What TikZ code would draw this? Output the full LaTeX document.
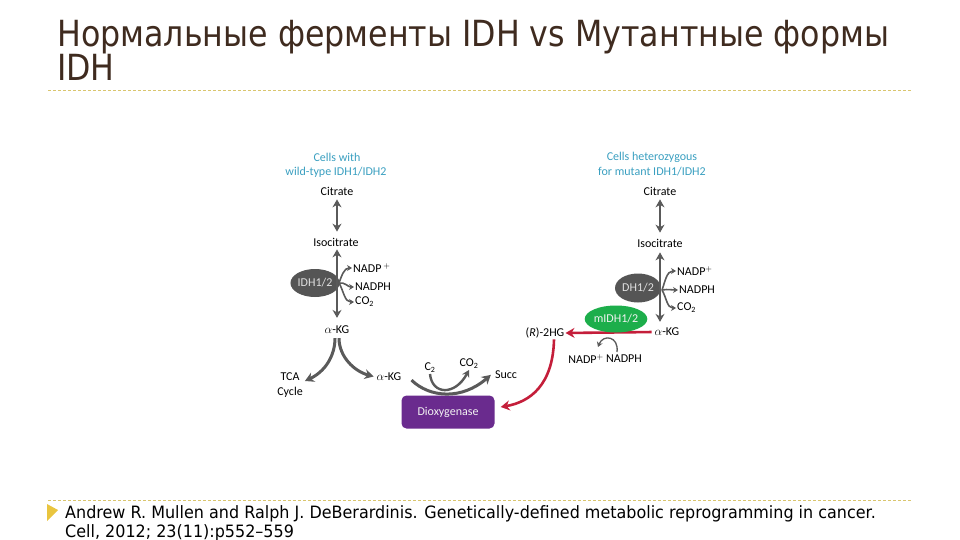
\documentclass[tikz,border=0pt]{standalone}
\usepackage{fontspec}
\setmainfont{Carlito}
\newfontfamily\titlefont[FakeStretch=0.88]{DejaVu Sans}
\newfontfamily\footfont[FakeStretch=0.94]{DejaVu Sans}
\usetikzlibrary{arrows.meta,shapes.geometric,positioning}

\definecolor{titlebrown}{HTML}{3F2B1F}
\definecolor{ruleyellow}{HTML}{D9C56E}
\definecolor{bulletgold}{HTML}{E9C53F}
\definecolor{cellteal}{HTML}{3A9FC0}
\definecolor{arrgray}{HTML}{5A5A5A}
\definecolor{enzgray}{HTML}{555555}
\definecolor{mutgreen}{HTML}{1DAE4B}
\definecolor{hgred}{HTML}{C41E3A}
\definecolor{dioxpurple}{HTML}{6A2B8E}

\begin{document}
\begin{tikzpicture}[x=1pt,y=-1pt,
    lbl/.style={font=\fontsize{12}{13}\selectfont, inner sep=1pt},
    cell/.style={lbl, text=cellteal},
    enz/.style={ellipse, fill=enzgray, text=black!12, font=\fontsize{12}{13}\selectfont,
        minimum width=48pt, minimum height=28pt, inner sep=0pt},
    bigarr/.style={draw=arrgray, line width=3pt, -{Stealth[length=9pt,width=10pt]}},
    dblarr/.style={draw=arrgray, line width=2.6pt,
        {Stealth[length=8pt,width=9pt]}-{Stealth[length=8pt,width=9pt]}},
    smarr/.style={draw=arrgray, line width=1.6pt, -{Stealth[length=5pt,width=6pt]}},
    redarr/.style={draw=hgred, line width=2.6pt, -{Stealth[length=9pt,width=10pt]}},
    foot/.style={anchor=base west, inner sep=0pt, text=black,
        font=\footfont\fontsize{17}{19}\selectfont}]
\useasboundingbox (0,0) rectangle (960,540);

% Title and rules
\node[anchor=base west, inner sep=0pt, text=titlebrown, font=\titlefont\fontsize{36}{40}\selectfont]
    (title1) at (57,47) {Нормальные ферменты IDH vs Мутантные формы};
\node[anchor=base west, inner sep=0pt, text=titlebrown, font=\titlefont\fontsize{36}{40}\selectfont]
    (title2) at (57,81) {IDH};
\draw[ruleyellow, line width=0.8pt, dash pattern=on 3pt off 2pt] (48,90) -- (912,90);
\draw[ruleyellow, line width=0.8pt, dash pattern=on 3pt off 2pt] (48,500) -- (912,500);

% Wild-type column
\node[cell] (cellL1) at (337,157) {Cells with};
\node[cell] (cellL2) at (336,172) {wild-type IDH1/IDH2};
\node[lbl] (citL) at (337,191) {Citrate};
\node[lbl] (isoL) at (336,242) {Isocitrate};
\node[lbl] (akgL) at (337,330) {$\alpha$-KG};
\node[enz] (idhL) at (315,283) {IDH1/2};
\node[lbl, anchor=west] (nadpL) at (352,268) {NADP\,$^{+}$};
\node[lbl, anchor=west] (nadphL) at (354,287) {NADPH};
\node[lbl, anchor=west] (co2L) at (354,302) {CO\textsubscript{2}};
\coordinate (brL) at (339,283);

\draw[dblarr, shorten <=3pt, shorten >=5pt] (citL) -- (citL |- isoL.north);
\draw[dblarr, shorten <=2pt, shorten >=7pt] (isoL.south -| citL) -- (akgL.north -| citL);
\draw[smarr] (brL) to[out=70,in=180] (nadpL.west);
\draw[smarr] (brL) to[out=10,in=180] (nadphL.west);
\draw[smarr] (brL) to[out=-60,in=180] (co2L.west);

% Branches from alpha-KG
\node[lbl, align=center, font=\fontsize{12}{15}\selectfont] (tcaL) at (290,385) {TCA\\Cycle};
\node[lbl] (akgR) at (389,377) {$\alpha$-KG};
\draw[bigarr, shorten <=3pt] ([xshift=-2pt]akgL.south) to[out=-90,in=25] ([shift={(1,-4)}]tcaL.east);
\draw[bigarr, shorten <=3pt, shorten >=2pt] ([xshift=2pt]akgL.south) to[out=-90,in=165] (akgR.west);

% Dioxygenase
\node[rounded corners=5pt, fill=dioxpurple, text=black!5, minimum width=93pt,
    minimum height=33pt, font=\fontsize{12}{13}\selectfont] (diox) at (448,412) {Dioxygenase};
\node[lbl] (c2L) at (430,368) {C\textsubscript{2}};
\node[lbl] (co2D) at (469,364) {CO\textsubscript{2}};
\node[lbl] (succL) at (506,375) {Succ};
\draw[bigarr] ([shift={(9,-2)}]akgR.south east) .. controls (430,398) and (462,400) .. ([shift={(-3,5)}]succL.north west);
\draw[draw=arrgray, line width=2.4pt, -{Stealth[length=7pt,width=8pt]}]
    (c2L.south) .. controls (432,395) and (455,396) .. (co2D.south);

% Mutant column
\node[cell] (cellR1) at (652,157) {Cells heterozygous};
\node[cell] (cellR2) at (652,172) {for mutant IDH1/IDH2};
\node[lbl] (citR) at (660,191) {Citrate};
\node[lbl] (isoR) at (660,243) {Isocitrate};
\node[lbl] (akgR2) at (667,332) {$\alpha$-KG};
\node[enz, minimum width=46pt, minimum height=29pt] (idhR) at (638,288) {DH1/2};
\node[lbl, anchor=west] (nadpR) at (676,271) {NADP$^{+}$};
\node[lbl, anchor=west] (nadphR) at (678,290) {NADPH};
\node[lbl, anchor=west] (co2R) at (676,308) {CO\textsubscript{2}};
\coordinate (brR) at (662,290);

\draw[dblarr, shorten <=3pt, shorten >=5pt] (citR) -- (isoR);
\draw[dblarr, shorten <=4pt, shorten >=5pt] (isoR.south) -- (isoR.south |- akgR2.north);
\draw[smarr] (brR) to[out=70,in=180] (nadpR.west);
\draw[smarr] (brR) to[out=10,in=180] (nadphR.west);
\draw[smarr] (brR) to[out=-60,in=180] (co2R.west);

% Mutant reaction
\node[lbl] (hgL) at (545,333) {(\textit{R})-2HG};
\draw[redarr, shorten <=2pt] (akgR2.west) -- (hgL.east);
\node[ellipse, fill=mutgreen, text=black!5, font=\fontsize{12}{13}\selectfont,
    minimum width=58pt, minimum height=27pt, inner sep=0pt] (midh) at (616,319) {mIDH1/2};
\node[lbl] (nadpB) at (586,359) {NADP$^{+}$};
\node[lbl] (nadphB) at (624,359) {NADPH};
\coordinate (cofIn) at (617,352);
\coordinate (cofOut) at (598,347);
\draw[smarr, line width=1.3pt] (cofIn) .. controls (619,336) and (603,334) .. (cofOut);
\draw[redarr] ([xshift=9pt]hgL.south) .. controls (553,385) and (530,402) .. ([shift={(6,-5)}]diox.east);

% Reference
\fill[bulletgold] (47,504) -- (58,510) -- (47,521) -- cycle;
\node[foot] (ref1) at (65,518) {Andrew R. Mullen and Ralph J. DeBerardinis. Genetically-defined metabolic reprogramming in cancer.};
\node[foot] (ref2) at (65,537) {Cell, 2012; 23(11):p552–559};
\end{tikzpicture}
\end{document}
